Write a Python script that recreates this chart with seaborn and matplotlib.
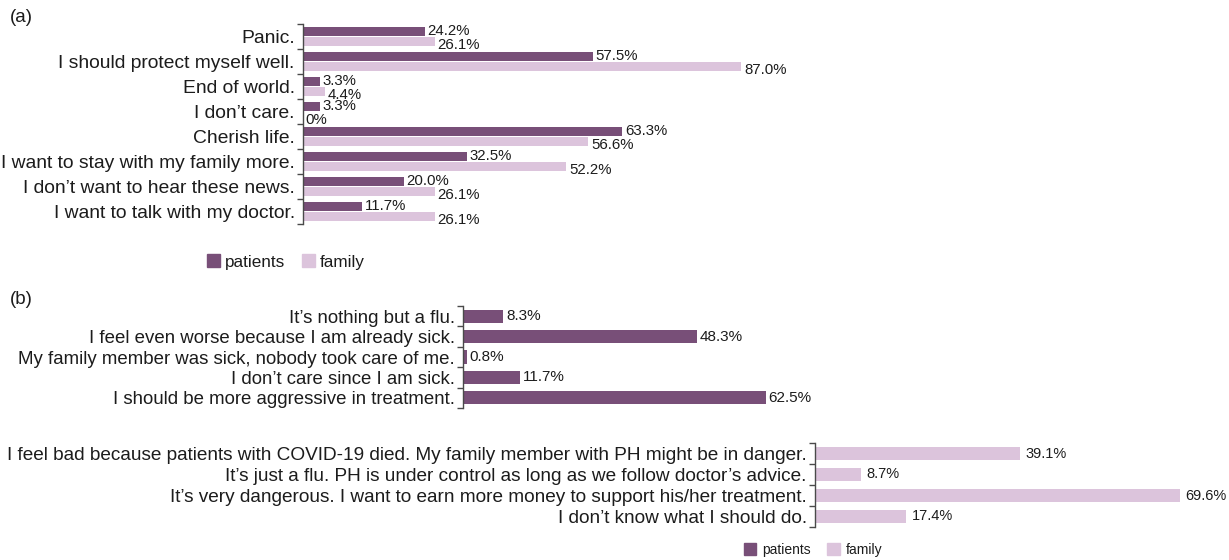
import numpy as np
import pandas as pd
import matplotlib
matplotlib.use("Agg")
import matplotlib.pyplot as plt
from matplotlib.patches import Patch
import seaborn as sns

# data
a_items = ["Panic.", "I should protect myself well.", "End of world.", "I don’t care.",
           "Cherish life.", "I want to stay with my family more.",
           "I don’t want to hear these news.", "I want to talk with my doctor."]
a_patients = [24.2, 57.5, 3.3, 3.3, 63.3, 32.5, 20.0, 11.7]
a_family = [26.1, 87.0, 4.4, 0.0, 56.6, 52.2, 26.1, 26.1]

b_patient_items = ["It’s nothing but a flu.",
                   "I feel even worse because I am already sick.",
                   "My family member was sick, nobody took care of me.",
                   "I don’t care since I am sick.",
                   "I should be more aggressive in treatment."]
b_patient_vals = [8.3, 48.3, 0.8, 11.7, 62.5]

b_family_items = ["I feel bad because patients with COVID-19 died. My family member with PH might be in danger.",
                  "It’s just a flu. PH is under control as long as we follow doctor’s advice.",
                  "It’s very dangerous. I want to earn more money to support his/her treatment.",
                  "I don’t know what I should do."]
b_family_vals = [39.1, 8.7, 69.6, 17.4]

groups = ["patients", "family"]
dark = "#784f78"
light = "#dcc4dc"
ink = "#1c1c1c"
axcol = "#4a4a4a"

sns.set_style("white")
plt.rcParams["font.family"] = ["Liberation Sans", "DejaVu Sans"]

W, H = 1229, 560
fig = plt.figure(figsize=(W / 100, H / 100), dpi=100)


def px_axes(x0, ytop, ybot, width):
    return fig.add_axes([x0 / W, 1 - ybot / H, width / W, (ybot - ytop) / H])


def style_axis(ax, n, fsize):
    ax.set_xlabel("")
    ax.set_ylabel("")
    ax.set_xticks([])
    for s in ["top", "right", "bottom"]:
        ax.spines[s].set_visible(False)
    ax.spines["left"].set_color(axcol)
    ax.spines["left"].set_linewidth(1.0)
    ax.set_yticks(np.arange(-0.5, n, 1), minor=True)
    ax.tick_params(axis="y", which="both", left=True)
    ax.tick_params(axis="y", which="major", length=0, pad=6, labelsize=fsize, labelcolor=ink)
    ax.tick_params(axis="y", which="minor", length=4, width=1.0, color=axcol, direction="out")
    ax.patch.set_alpha(0)


def pct(v):
    return "0%" if v == 0 else f"{v:.1f}%"


# ---- (a)
df_a = pd.DataFrame({
    "item": a_items * 2,
    "pct": a_patients + a_family,
    "group": ["patients"] * len(a_items) + ["family"] * len(a_items),
})
ax_a = px_axes(303, 24, 224, 504)
sns.barplot(data=df_a, x="pct", y="item", hue="group", order=a_items, hue_order=groups,
            palette=[dark, light], orient="h", width=0.84, gap=0.1, ax=ax_a, legend=False,
            saturation=1, errorbar=None, linewidth=0)
ax_a.set_xlim(0, 100)
style_axis(ax_a, len(a_items), 13.9)
for k, cont in enumerate(ax_a.containers):
    anns = ax_a.bar_label(cont, fmt=pct, padding=2, fontsize=10.8, color=ink)
    if k == 1:
        for t in anns:
            t.xyann = (t.xyann[0], -2.5)

fig.text(10 / W, 1 - 18 / H, "(a)", fontsize=13.5, color=ink, va="center")
fig.legend(handles=[Patch(color=dark, label="patients"), Patch(color=light, label="family")],
           loc="center", bbox_to_anchor=(286 / W, 1 - 262 / H), ncol=2, frameon=False,
           fontsize=12.3, handlelength=0.75, handleheight=0.75, handletextpad=0.3,
           columnspacing=1.0, labelcolor=ink)

# ---- (b) patients
df_bp = pd.DataFrame({"item": b_patient_items, "pct": b_patient_vals})
ax_bp = px_axes(463, 306, 408, 484)
sns.barplot(data=df_bp, x="pct", y="item", color=dark, orient="h", width=0.64,
            ax=ax_bp, saturation=1, errorbar=None, linewidth=0)
ax_bp.set_xlim(0, 100)
style_axis(ax_bp, len(b_patient_items), 13.4)
ax_bp.bar_label(ax_bp.containers[0], fmt=pct, padding=2, fontsize=11, color=ink,
                family=["Liberation Sans Narrow", "Liberation Sans"])

fig.text(10 / W, 1 - 300 / H, "(b)", fontsize=13.5, color=ink, va="center")

# ---- (b) family
df_bf = pd.DataFrame({"item": b_family_items, "pct": b_family_vals})
ax_bf = px_axes(815, 443, 527, 393)
sns.barplot(data=df_bf, x="pct", y="item", color=light, orient="h", width=0.58,
            ax=ax_bf, saturation=1, errorbar=None, linewidth=0)
ax_bf.set_xlim(0, 75)
style_axis(ax_bf, len(b_family_items), 13.7)
ax_bf.bar_label(ax_bf.containers[0], fmt=pct, padding=4, fontsize=10.5, color=ink)

fig.legend(handles=[Patch(color=dark, label="patients"), Patch(color=light, label="family")],
           loc="center", bbox_to_anchor=(813 / W, 1 - 550 / H), ncol=2, frameon=False,
           fontsize=10, handlelength=0.9, handleheight=0.9, handletextpad=0.4,
           columnspacing=1.2, labelcolor=ink)

fig.savefig("out.png", dpi=100)
